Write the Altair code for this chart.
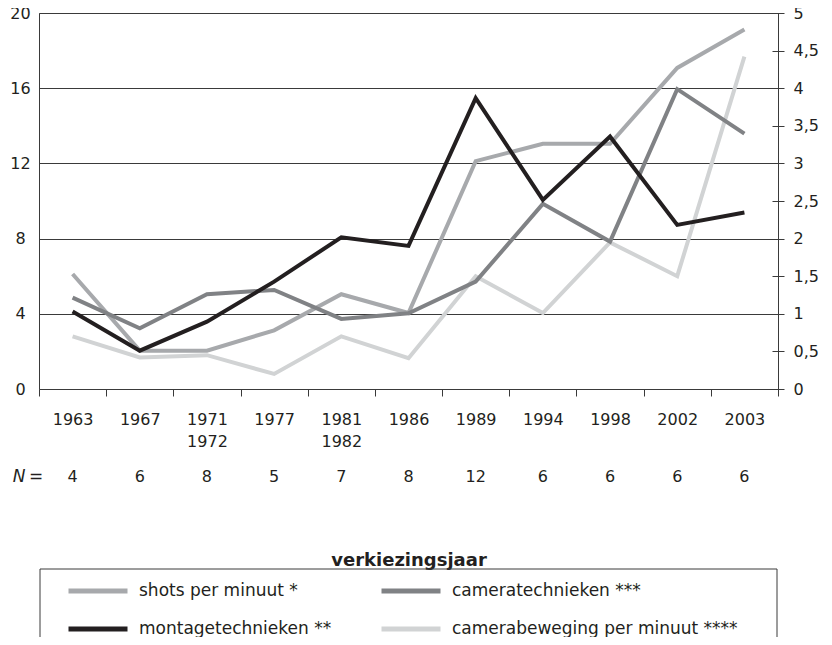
import altair as alt
import pandas as pd

# ---- data ----
years = ["1963", "1967", "1971 1972", "1977", "1981 1982", "1986", "1989", "1994", "1998", "2002", "2003"]
n_values = [4, 6, 8, 5, 7, 8, 12, 6, 6, 6, 6]

# left axis (0-20)
montagetechnieken = [4.12, 2.04, 3.58, 5.71, 8.07, 7.61, 15.47, 10.06, 13.43, 8.73, 9.39]
cameratechnieken = [4.86, 3.23, 5.04, 5.27, 3.73, 4.03, 5.71, 9.85, 7.84, 15.95, 13.58]
# right axis (0-5)
shots_per_minuut = [1.53, 0.51, 0.51, 0.78, 1.26, 1.01, 3.03, 3.26, 3.26, 4.27, 4.78]
camerabeweging = [0.70, 0.42, 0.45, 0.20, 0.70, 0.41, 1.50, 1.01, 1.95, 1.50, 4.42]

# legend order (filled column by column)
series_names = ["shots per minuut *", "montagetechnieken **",
                "cameratechnieken ***", "camerabeweging per minuut ****"]
series_colors = ["#a7a9ac", "#231f20", "#808285", "#d1d3d4"]

left_ticks = [0, 4, 8, 12, 16, 20]
right_ticks = [0, 0.5, 1, 1.5, 2, 2.5, 3, 3.5, 4, 4.5, 5]

# ---- tables ----
left_df = pd.DataFrame({
    "jaar": years * 2,
    "reeks": ["cameratechnieken ***"] * len(years) + ["montagetechnieken **"] * len(years),
    "waarde": cameratechnieken + montagetechnieken,
})
right_df = pd.DataFrame({
    "jaar": years * 2,
    "reeks": ["camerabeweging per minuut ****"] * len(years) + ["shots per minuut *"] * len(years),
    "waarde": camerabeweging + shots_per_minuut,
})
n_df = pd.DataFrame({"jaar": years, "n": n_values})

INK = "#231f20"
GRID = "#3a3a3a"
FONT = "DejaVu Sans"

x_enc = alt.X(
    "jaar:N", sort=years, bandPosition=0.5,
    scale=alt.Scale(type="band", domain=years, paddingInner=0, paddingOuter=0),
    axis=alt.Axis(
        title="verkiezingsjaar", titleFontWeight="bold", titleFontSize=18,
        titleY=171, titleBaseline="middle", titleColor=INK,
        labelExpr="split(datum.label, ' ')", labelLineHeight=22,
        labelAngle=0, labelFontSize=16, labelColor=INK, labelPadding=15,
        labelBaseline="top",
        tickBand="extent", ticks=True, tickSize=7, tickColor=GRID,
        domain=False, grid=False,
    ),
)

color_enc = alt.Color(
    "reeks:N",
    scale=alt.Scale(domain=series_names, range=series_colors),
    legend=alt.Legend(
        title=None, orient="none", legendX=27, legendY=568, columns=2,
        symbolType="stroke", symbolSize=3481, symbolStrokeWidth=5,
        labelFontSize=17, labelColor=INK, labelOffset=9, labelFont=FONT,
        labelLimit=500, columnPadding=47, clipHeight=20, rowPadding=18, padding=0,
    ),
)

left_lines = alt.Chart(left_df).mark_line(strokeWidth=4).encode(
    x=x_enc,
    y=alt.Y("waarde:Q", scale=alt.Scale(domain=[0, 20], nice=False),
            axis=alt.Axis(values=left_ticks, title=None, grid=True, gridColor=GRID,
                          gridOpacity=1, ticks=False, domain=False,
                          labelAlign="center", labelPadding=19, labelFontSize=16,
                          labelColor=INK)),
    color=color_enc,
)

right_lines = alt.Chart(right_df).mark_line(strokeWidth=4).encode(
    x=x_enc,
    y=alt.Y("waarde:Q", scale=alt.Scale(domain=[0, 5], nice=False),
            axis=alt.Axis(orient="right", values=right_ticks, title=None, grid=False,
                          domain=False, ticks=True, tickSize=12, tickColor=GRID,
                          offset=-6, labelPadding=9, labelAlign="left",
                          labelFontSize=16, labelColor=INK,
                          labelExpr="replace(toString(datum.value), '.', ',')")),
    color=color_enc,
)

n_text = alt.Chart(n_df).mark_text(fontSize=16, color=INK, baseline="middle", font=FONT).encode(
    x=x_enc, y=alt.value(464), text="n:N"
)
n_label = alt.Chart(pd.DataFrame({"t": ["N"]})).mark_text(
    fontSize=17, fontStyle="italic", color=INK, baseline="middle", font=FONT
).encode(x=alt.value(-20), y=alt.value(464), text="t:N")
eq_label = alt.Chart(pd.DataFrame({"t": ["="]})).mark_text(
    fontSize=17, color=INK, baseline="middle", font=FONT
).encode(x=alt.value(-3), y=alt.value(464), text="t:N")

legend_box = alt.Chart(pd.DataFrame({"b": [0]})).mark_rect(
    fill="white", fillOpacity=0, stroke=GRID, strokeWidth=1
).encode(x=alt.value(1), x2=alt.value(738), y=alt.value(556), y2=alt.value(700))

chart = alt.layer(
    legend_box, right_lines, left_lines, n_text, n_label, eq_label
).resolve_scale(y="independent").properties(
    width=739, height=376,
    autosize=alt.AutoSizeParams(type="none"),
    padding={"left": 31, "top": 5, "right": 45, "bottom": 248},
).configure(font=FONT).configure_view(
    stroke=GRID, strokeWidth=1, fill=None
).configure_axis(labelFont=FONT, titleFont=FONT)

chart.save("out.html", embed_options={"renderer": "svg", "actions": False})
